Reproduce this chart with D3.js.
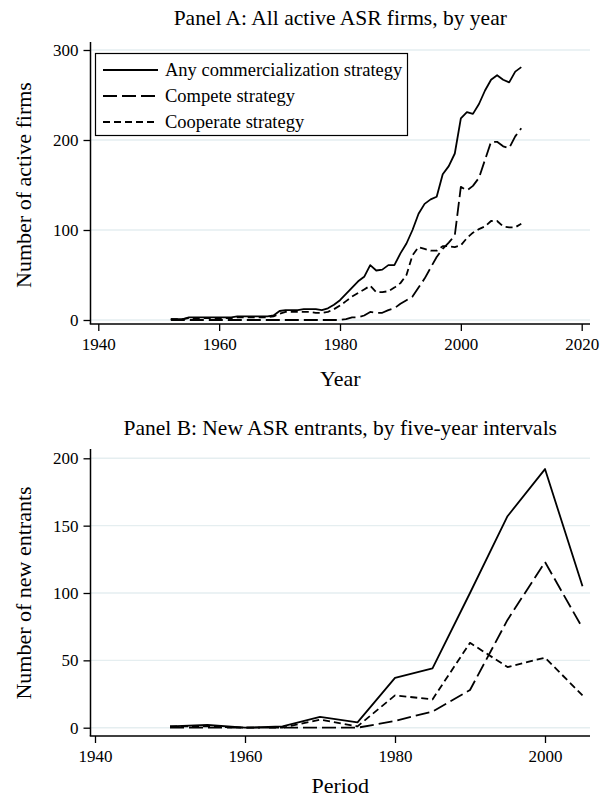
<!DOCTYPE html>
<html>
<head>
<meta charset="utf-8">
<script src="https://cdn.jsdelivr.net/npm/d3@7"></script>
<style>
  html, body { margin: 0; padding: 0; background: #fff; }
  svg { display: block; }
  text { font-family: "Liberation Serif", "Times New Roman", serif; fill: #000; }
</style>
</head>
<body>
<svg id="chart" width="610" height="798"></svg>
<script>
// ---------- Panel A data (yearly, 1952-2010) ----------
const yearsA = d3.range(1952, 2011);
const anyA = [1,1,1,3,3,3,3,3,3,3,3,4,4,4,4,4,4,5,10,11,11,11,12,12,12,11,13,17,22,29,36,43,48,61,55,56,61,61,74,85,100,118,129,134,137,162,171,185,224,231,229,240,255,267,272,267,264,276,281];
const competeA = [0,0,0,0,0,0,0,0,0,0,0,0,0,0,0,0,0,0,0,0,0,0,0,0,0,0,0,0,0,1,3,3,5,9,8,8,11,13,18,22,26,36,46,58,70,79,86,94,148,144,149,158,178,198,198,193,191,204,213];
const cooperateA = [1,1,1,2,2,2,2,2,2,2,2,3,3,3,3,3,3,4,7,9,9,9,9,9,8,8,9,12,16,21,26,30,34,38,31,31,32,36,41,50,72,81,79,77,77,82,82,81,83,91,97,101,104,110,110,104,103,103,107];
const xTicksA = [1940, 1960, 1980, 2000, 2020];
const yTicksA = [0, 100, 200, 300];

// ---------- Panel B data (five-year periods) ----------
const periodsB = [1950,1955,1960,1965,1970,1975,1980,1985,1990,1995,2000,2005];
const anyB = [1,2,0,1,8,4,37,44,100,157,192,105];
const competeB = [0,0,0,0,0,0,5,12,28,80,123,74];
const cooperateB = [1,1,0,0,6,1,24,21,63,45,52,24];
const xTicksB = [1940, 1960, 1980, 2000];
const yTicksB = [0, 50, 100, 150, 200];

const seriesNames = ["Any commercialization strategy", "Compete strategy", "Cooperate strategy"];
const dashes = [null, "14,5", "7,4"];

const svg = d3.select("#chart");
svg.append("rect").attr("width", 610).attr("height", 798).attr("fill", "#fff");

const axisLeft = 90.5, axisRight = 590;
const gridColor = "#e5eef0";

function panel(cfg) {
  const g = svg.append("g");
  const x = d3.scaleLinear().domain(cfg.xDom).range(cfg.xRange);
  const y = d3.scaleLinear().domain(cfg.yDom).range(cfg.yRange);

  // gridlines
  g.selectAll(".grid").data(cfg.yTicks).join("line")
    .attr("x1", axisLeft).attr("x2", axisRight)
    .attr("y1", d => y(d)).attr("y2", d => y(d))
    .attr("stroke", gridColor).attr("stroke-width", 1.4);

  // y axis
  const ya = g.append("g").attr("transform", `translate(${axisLeft},0)`)
    .call(d3.axisLeft(y).tickValues(cfg.yTicks).tickSize(7).tickPadding(5).tickFormat(d3.format("d")));
  ya.select(".domain").attr("d", `M0,${cfg.axisTop}V${cfg.axisY}`).attr("stroke", "#000").attr("stroke-width", 1.5);
  ya.selectAll(".tick line").attr("stroke", "#000").attr("stroke-width", 1.3);
  ya.selectAll(".tick text").style("font-family", "Liberation Serif").style("font-size", "17px");

  // x axis
  const xa = g.append("g").attr("transform", `translate(0,${cfg.axisY})`)
    .call(d3.axisBottom(x).tickValues(cfg.xTicks).tickSize(7).tickPadding(7).tickFormat(d3.format("d")));
  xa.select(".domain").attr("d", `M${axisLeft - 0.75},0H${axisRight}`).attr("stroke", "#000").attr("stroke-width", 1.5);
  xa.selectAll(".tick line").attr("stroke", "#000").attr("stroke-width", 1.3);
  xa.selectAll(".tick text").style("font-family", "Liberation Serif").style("font-size", "17px");

  // lines
  const line = d3.line().x(d => x(d[0])).y(d => y(d[1]));
  cfg.series.forEach((vals, i) => {
    g.append("path")
      .datum(cfg.xs.map((xv, j) => [xv, vals[j]]))
      .attr("d", line)
      .attr("fill", "none")
      .attr("stroke", "#000")
      .attr("stroke-width", 1.8)
      .attr("stroke-linejoin", "round")
      .attr("stroke-dasharray", dashes[i]);
  });

  // title
  g.append("text").attr("x", (axisLeft + axisRight) / 2).attr("y", cfg.titleY)
    .attr("text-anchor", "middle").style("font-size", "21.5px").text(cfg.title);
  // x title
  g.append("text").attr("x", (axisLeft + axisRight) / 2).attr("y", cfg.xTitleY)
    .attr("text-anchor", "middle").style("font-size", "22px").text(cfg.xTitle);
  // y title
  g.append("text")
    .attr("transform", `translate(31,${(cfg.yRange[0] + cfg.yRange[1]) / 2}) rotate(-90)`)
    .attr("text-anchor", "middle").style("font-size", "22px").text(cfg.yTitle);
  return g;
}

const gA = panel({
  xDom: [1940, 2020], xRange: [98.3, 581.7],
  yDom: [0, 300], yRange: [320, 50],
  axisTop: 42, axisY: 324,
  xTicks: xTicksA, yTicks: yTicksA,
  xs: yearsA, series: [anyA, competeA, cooperateA],
  title: "Panel A: All active ASR firms, by year", titleY: 25,
  xTitle: "Year", xTitleY: 386,
  yTitle: "Number of active firms"
});

// legend for panel A
const leg = svg.append("g");
leg.append("rect").attr("x", 95.5).attr("y", 53.5).attr("width", 312).attr("height", 82)
  .attr("fill", "#fff").attr("stroke", "#000").attr("stroke-width", 1.2);
seriesNames.forEach((name, i) => {
  const cy = 70 + i * 26;
  leg.append("line").attr("x1", 103).attr("x2", 158).attr("y1", cy).attr("y2", cy)
    .attr("stroke", "#000").attr("stroke-width", 1.8).attr("stroke-dasharray", dashes[i]);
  leg.append("text").attr("x", 165).attr("y", cy + 6).style("font-size", "18.5px").text(name);
});

const gB = panel({
  xDom: [1940, 2000], xRange: [95, 545],
  yDom: [0, 200], yRange: [727.7, 458.3],
  axisTop: 449, axisY: 736,
  xTicks: xTicksB, yTicks: yTicksB,
  xs: periodsB, series: [anyB, competeB, cooperateB],
  title: "Panel B: New ASR entrants, by five-year intervals", titleY: 435,
  xTitle: "Period", xTitleY: 793,
  yTitle: "Number of new entrants"
});
</script>
</body>
</html>
